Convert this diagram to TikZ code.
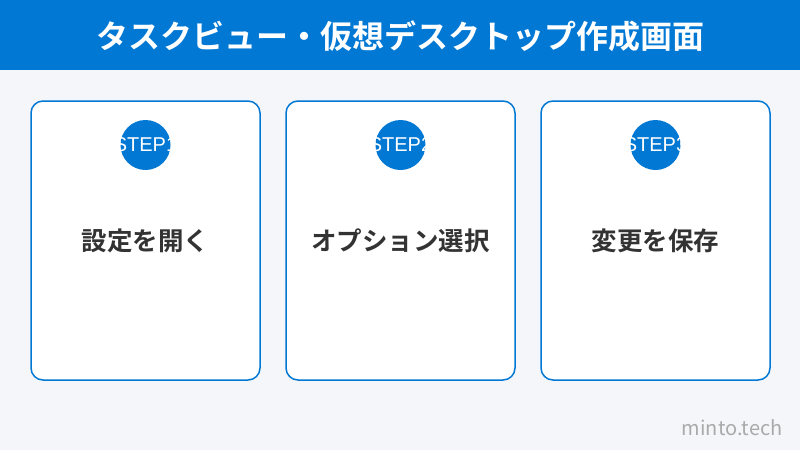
\documentclass[tikz,border=0pt]{standalone}
\usepackage{fontspec}
\newfontfamily\jpb{Noto Sans CJK JP Bold}
\newfontfamily\jpr{Noto Sans CJK JP}
\newfontfamily\lsans{Liberation Sans}
\definecolor{hdr}{HTML}{0078D4}
\definecolor{bg}{HTML}{F4F6FA}
\definecolor{txt}{HTML}{333333}
\definecolor{wm}{HTML}{AAAAAA}
\tikzset{
  card/.style={draw=hdr, line width=1.5pt, fill=white, rounded corners=12pt},
  badge/.style={circle, fill=hdr, minimum size=50pt, inner sep=0pt},
  badgetext/.style={text=white, inner sep=0pt, font=\lsans\fontsize{20}{20}\selectfont},
  label/.style={text=txt, font=\jpb\fontsize{25.5}{25.5}\selectfont},
}
\begin{document}
\begin{tikzpicture}[x=1pt,y=-1pt]
\fill[bg] (0,0) rectangle (800,450);
\useasboundingbox (0,0) rectangle (800,450);
\fill[hdr] (0,0) rectangle (800,70);
\node[text=white, font=\jpb\fontsize{32}{32}\selectfont] (title) at (400,36) {タスクビュー・仮想デスクトップ作成画面};
\foreach \i/\x/\t in {1/31/設定を開く, 2/286/オプション選択, 3/541/変更を保存}{
  \draw[card] (\x,101) rectangle (\x+229,380);
  \node[badge] (b\i) at (\x+114.5,145) {};
  \node[badgetext] (s\i) at (b\i.center) {STEP\i};
  \node[label] (l\i) at (\x+114.5,241) {\t};
}
\node[text=wm, font=\jpr\fontsize{20}{20}\selectfont, anchor=east] (wmk) at (786,428) {minto.tech};
\end{tikzpicture}
\end{document}
